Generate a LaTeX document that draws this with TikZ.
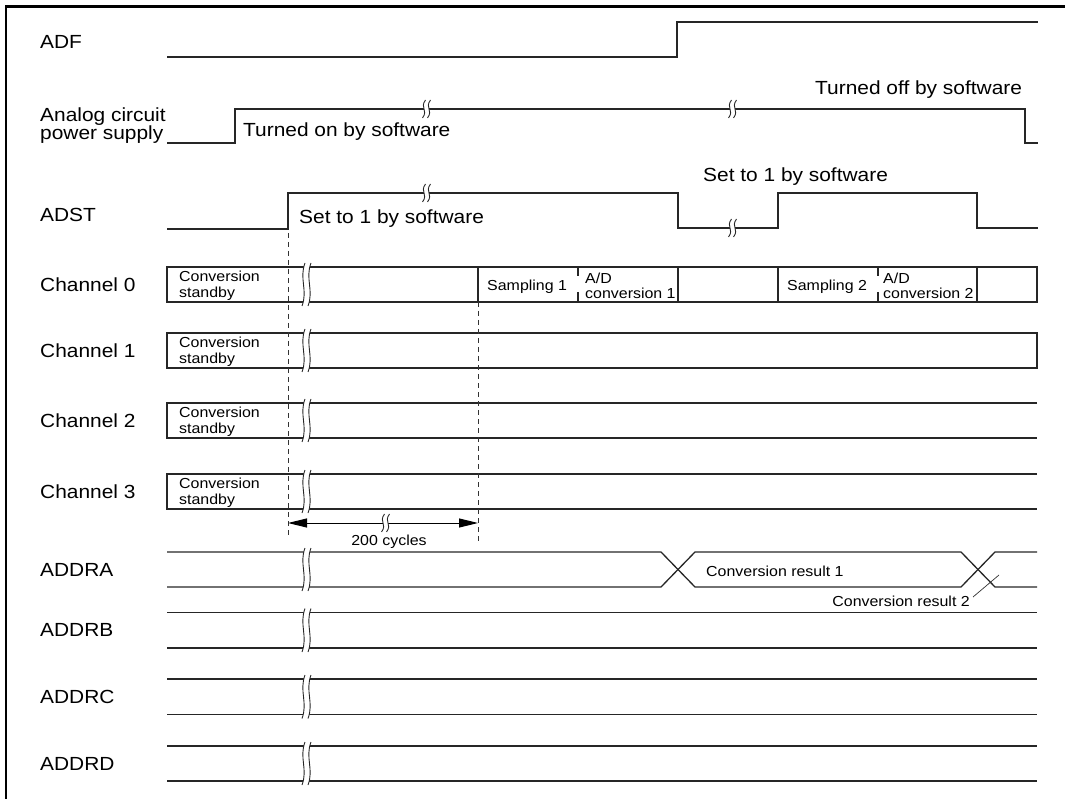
\documentclass[tikz,border=0pt]{standalone}
\usepackage{fontspec}
\setmainfont{Liberation Sans}[FakeStretch=1.1]
\usetikzlibrary{arrows.meta}
\newcommand\brkmark[4]{%
 \pgfmathsetmacro\bh{#3-#2}%
 \pgfmathsetmacro\bya{#2+0.45*\bh}%
 \pgfmathsetmacro\byb{#3-0.45*\bh}%
 \pgfmathsetmacro\bxb{#1+#4}%
 \fill[white] ({#1+1.5},#2) .. controls ({#1-4.5},\bya) and ({#1+4.5},\byb) .. ({#1-1.5},#3) -- ({\bxb-1.5},#3) .. controls ({\bxb+4.5},\byb) and ({\bxb-4.5},\bya) .. ({\bxb+1.5},#2) -- cycle;
 \draw[brk] ({#1+1.5},#2) .. controls ({#1-4.5},\bya) and ({#1+4.5},\byb) .. ({#1-1.5},#3);
 \draw[brk] ({\bxb+1.5},#2) .. controls ({\bxb-4.5},\bya) and ({\bxb+4.5},\byb) .. ({\bxb-1.5},#3);
}
\begin{document}
\begin{tikzpicture}[x=1pt,y=-1pt,
  sig/.style={line width=1.3pt,black!85},
  brk/.style={line width=0.9pt,black!85},
  dsh/.style={line width=1pt,black!80,dash pattern=on 5pt off 4pt},
  lbl/.style={anchor=base west,inner sep=0pt,font=\fontsize{19}{22}\selectfont},
  sml/.style={anchor=base west,inner sep=0pt,font=\fontsize{14.5}{17}\selectfont},
  frm/.style={line width=2.4pt,black}]
\useasboundingbox (0,0) rectangle (1065,799);
% frame
\draw[frm] (6,799) -- (6,6.5) -- (1065,6.5);
% left labels
\node[lbl] (lADF) at (40,48.3) {ADF};
\node[lbl] (lAna1) at (40,121.7) {Analog circuit};
\node[lbl] (lAna2) at (40,140) {power supply};
\node[lbl] (lADST) at (40,221.7) {ADST};
\node[lbl] (lCh0) at (40,291.4) {Channel 0};
\node[lbl] (lCh1) at (40,357.4) {Channel 1};
\node[lbl] (lCh2) at (40,427.2) {Channel 2};
\node[lbl] (lCh3) at (40,498.2) {Channel 3};
\node[lbl] (lA) at (40,576.2) {ADDRA};
\node[lbl] (lB) at (40,636.7) {ADDRB};
\node[lbl] (lC) at (40,703.2) {ADDRC};
\node[lbl] (lD) at (40,770.2) {ADDRD};
% ADF
\draw[sig] (167,57) -- (677,57) -- (677,22) -- (1038,22);
% analog power supply
\draw[sig] (167,143) -- (235,143) -- (235,109) -- (1025,109) -- (1025,143) -- (1038,143);
% ADST
\draw[sig] (167,229) -- (288,229) -- (288,193) -- (678,193) -- (678,228) -- (778,228) -- (778,193) -- (977,193) -- (977,228) -- (1038,228);
% channel boxes
\draw[sig] (167,267) rectangle (1037,302);
\foreach \xx in {478,678,778,977} \draw[sig] (\xx,267) -- (\xx,302);
\foreach \xx in {578,878} {\draw[sig] (\xx,267) -- (\xx,276.5); \draw[sig] (\xx,292) -- (\xx,302);}
\draw[sig] (167,333) rectangle (1037,368);
\draw[sig] (1037,403) -- (167,403) -- (167,438) -- (1037,438);
\draw[sig] (1037,474) -- (167,474) -- (167,509) -- (1037,509);
% ADDR lines
\draw[sig] (167,552) -- (661,552) -- (695,587) -- (961,587) -- (995,552) -- (1037,552);
\draw[sig] (167,587) -- (661,587) -- (695,552) -- (961,552) -- (995,587) -- (1037,587);
\draw[sig] (167,612.5) -- (1037,612.5);
\draw[sig] (167,648) -- (1037,648);
\draw[sig] (167,679) -- (1037,679);
\draw[sig] (167,714.5) -- (1037,714.5);
\draw[sig] (167,746) -- (1037,746);
\draw[sig] (167,781) -- (1037,781);
% dashed lines
\draw[dsh] (288,233) -- (288,537);
\draw[dsh] (478,302) -- (478,542);
% 200 cycles arrow
\coordinate (ca) at (288,523);
\coordinate (cb) at (478,523);
\draw[line width=1pt,{Triangle[length=19pt,width=9pt]}-{Triangle[length=19pt,width=9pt]}] (ca) -- (cb);
% breaks
\brkmark{424}{100}{118}{5}
\brkmark{730}{100}{118}{5}
\brkmark{424}{184}{202}{5}
\brkmark{730}{219}{237}{5}
\brkmark{383}{514}{532}{5}
\foreach \yt/\yb in {267/302,333/368,403/438,474/509,552/587,612.5/648,679/714.5,746/781}
  {\brkmark{303.5}{\yt-4}{\yb+4}{6}}
% leader line
\coordinate (ld1) at (973,597);
\coordinate (ld2) at (999,575);
\draw[line width=0.7pt,black!80] (ld1) -- (ld2);
% signal texts
\node[lbl] (tOn) at (243,137) {Turned on by software};
\node[lbl] (tOff) at (815,95) {Turned off by software};
\node[lbl] (tSet1) at (299,223.3) {Set to 1 by software};
\node[lbl] (tSet2) at (703,181.7) {Set to 1 by software};
% box texts
\foreach \yt/\nm in {267/a,333/b,403/c,474/d} {
  \node[sml] (cs\nm) at (179,\yt+14.7) {Conversion};
  \node[sml] (st\nm) at (179,\yt+30.7) {standby};
}
\node[sml] (s1) at (487,290.7) {Sampling 1};
\node[sml] (ad1) at (585,283.3) {A/D};
\node[sml] (cv1) at (585,298.5) {conversion 1};
\node[sml] (s2) at (787,290.7) {Sampling 2};
\node[sml] (ad2) at (883,283.3) {A/D};
\node[sml] (cv2) at (883,298.5) {conversion 2};
\node[sml,anchor=base] (cyc) at (389,545) {200 cycles};
\node[sml] (r1) at (706,576) {Conversion result 1};
\node[sml,anchor=base east] (r2) at (970,606) {Conversion result 2};
\end{tikzpicture}
\end{document}
